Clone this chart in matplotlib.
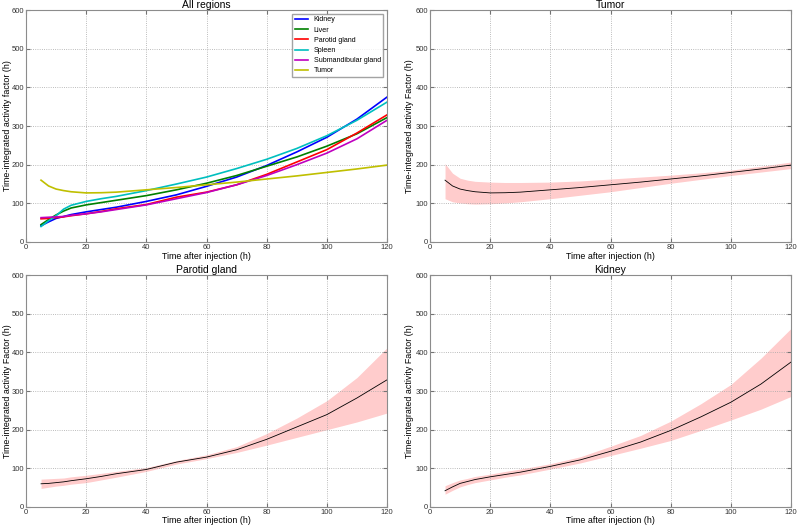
import numpy as np
import matplotlib
matplotlib.use('Agg')
import matplotlib.pyplot as plt

plt.rcParams['font.family'] = ['Liberation Sans', 'DejaVu Sans']

# time points (h)
t = [5, 7.5, 10, 12.5, 15, 20, 25, 30, 40, 50, 60, 70, 80, 90, 100, 110, 120]

kidney = [42, 52, 61, 66, 71, 78, 84, 90, 105, 122, 144, 168, 198, 233, 271, 318, 375]
kidney_lo = [33, 43, 52, 58, 63, 70, 77, 83, 98, 114, 133, 152, 172, 198, 225, 253, 286]
kidney_hi = [55, 63, 70, 74, 79, 85, 92, 98, 112, 130, 157, 185, 222, 267, 317, 385, 462]

liver = [45, 58, 70, 80, 88, 96, 102, 108, 120, 135, 152, 172, 196, 220, 248, 280, 322]

parotid = [60, 61, 63, 65, 68, 73, 79, 86, 97, 116, 129, 148, 175, 207, 239, 282, 329]
parotid_lo = [48, 51, 54, 56, 59, 63, 70, 77, 92, 111, 125, 141, 160, 180, 200, 220, 243]
parotid_hi = [72, 73, 74, 75, 78, 82, 87, 92, 102, 120, 135, 156, 190, 230, 275, 335, 412]

spleen = [40, 55, 68, 85, 95, 105, 112, 118, 133, 150, 168, 190, 214, 242, 275, 315, 362]

submand = [63, 64, 65, 66, 69, 73, 78, 84, 96, 112, 128, 148, 172, 200, 230, 267, 315]

tumor = [160, 145, 137, 133, 130, 127, 127.5, 129, 135, 141, 148, 155, 163, 171, 180, 189, 199]
tumor_lo = [112, 104, 101, 99, 98, 99, 101, 104, 112, 121, 130, 141, 152, 162, 172, 181, 190]
tumor_hi = [203, 178, 165, 160, 157, 155, 154, 154, 155, 158, 163, 168, 173, 179, 186, 196, 207]

region_names = ['Kidney', 'Liver', 'Parotid gland', 'Spleen', 'Submandibular gland', 'Tumor']
region_values = [kidney, liver, parotid, spleen, submand, tumor]
region_colors = ['b', 'g', 'r', 'c', 'm', 'y']

fig = plt.figure(figsize=(7.97, 5.27), dpi=100)

w, h = 0.453, 0.440
ax_all = fig.add_axes([0.0326, 0.5408, w, h])
ax_tum = fig.add_axes([0.5395, 0.5408, w, h])
ax_par = fig.add_axes([0.0326, 0.038, w, h])
ax_kid = fig.add_axes([0.5395, 0.038, w, h])


def style(ax, title, ylabel, xlab_y, ylab_x):
    ax.set_xlim(0, 120)
    ax.set_ylim(0, 600)
    ax.set_xticks(np.arange(0, 121, 20))
    ax.set_yticks(np.arange(0, 601, 100))
    ax.grid(True, ls=':', color='0.65', lw=0.6)
    ax.tick_params(direction='in', labelsize=5.5, length=3, top=True, right=True,
                   pad=1.5, color='0.45', labelcolor='0.2')
    for s in ax.spines.values():
        s.set_color('0.55')
    ax.set_title(title, fontsize=7.5, pad=1.5)
    ax.set_xlabel('Time after injection (h)', fontsize=6.4)
    ax.set_ylabel(ylabel, fontsize=6.4)
    ax.xaxis.set_label_coords(0.5, xlab_y)
    ax.yaxis.set_label_coords(ylab_x, 0.5)


for name, vals, c in zip(region_names, region_values, region_colors):
    ax_all.plot(t, vals, color=c, lw=1.2, label=name)
ax_all.legend(loc='upper right', fontsize=5.1, frameon=True, fancybox=False,
              edgecolor='0.55', handlelength=1.8, handletextpad=0.8,
              labelspacing=0.45, borderaxespad=0.5)
style(ax_all, 'All regions', 'Time-integrated activity factor (h)', -0.043, -0.040)

panels = [(ax_tum, 'Tumor', tumor, tumor_lo, tumor_hi, -0.043, -0.044),
          (ax_par, 'Parotid gland', parotid, parotid_lo, parotid_hi, -0.039, -0.040),
          (ax_kid, 'Kidney', kidney, kidney_lo, kidney_hi, -0.039, -0.044)]
for ax, title, mid, lo, hi, xy, yx in panels:
    ax.fill_between(t, lo, hi, color='r', alpha=0.2, lw=0)
    ax.plot(t, mid, color='k', lw=0.6)
    style(ax, title, 'Time-integrated activity Factor (h)', xy, yx)

fig.savefig('out.png', dpi=100, facecolor='white')
